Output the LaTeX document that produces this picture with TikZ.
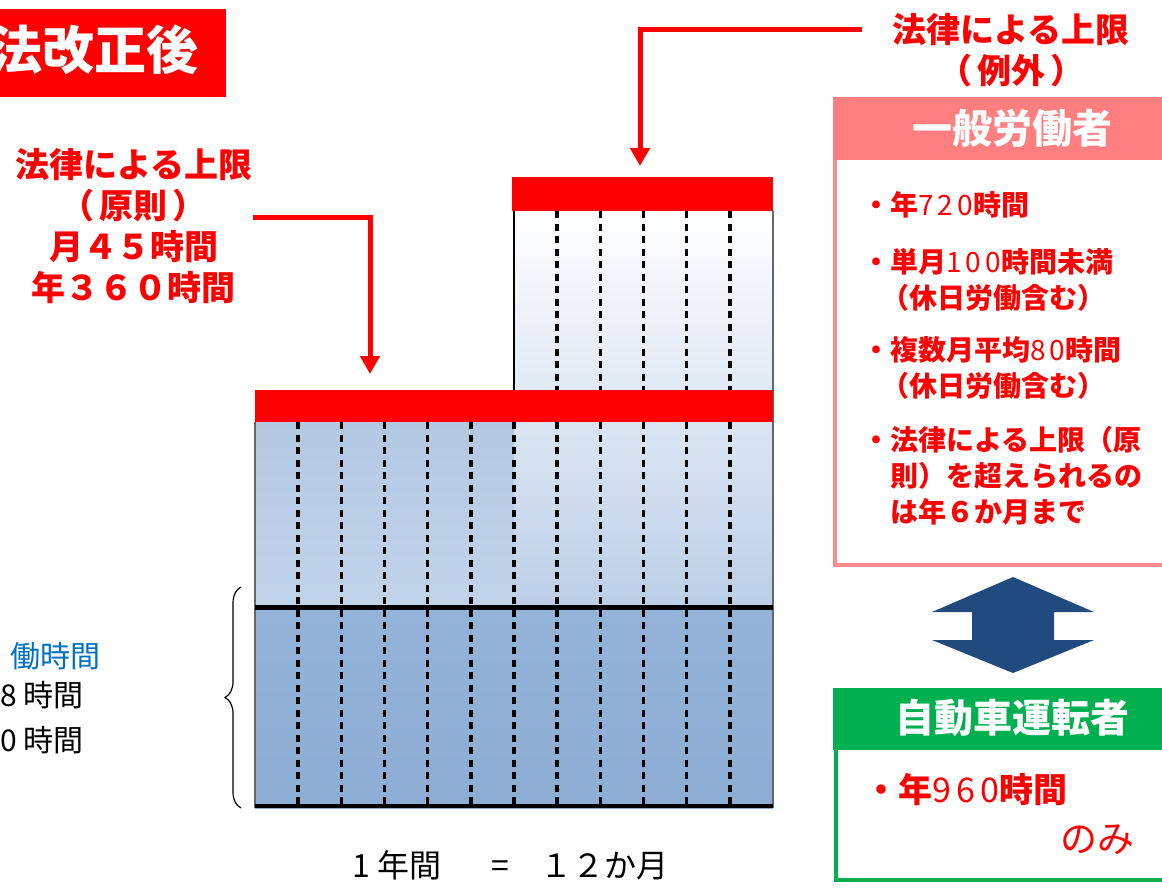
\documentclass[tikz,border=0pt]{standalone}
\usepackage{fontspec}
\setmainfont{Noto Sans CJK JP}
\usetikzlibrary{arrows.meta,decorations.pathreplacing}
\definecolor{barred}{HTML}{FF0000}
\definecolor{pinkhead}{HTML}{FF7F80}
\definecolor{pinkline}{HTML}{FF8C8C}
\definecolor{greenbox}{HTML}{00B050}
\definecolor{navyarrow}{HTML}{214A7E}
\definecolor{legalblue}{HTML}{0070C0}
\newcommand{\thinnum}[1]{{\mdseries\addfontfeatures{LetterSpace=15}#1}}
\begin{document}
\begin{tikzpicture}[x=1pt,y=-1pt,
  redtext/.style={text=barred,font=\bfseries\fontsize{34}{41}\selectfont,align=center,inner sep=0pt},
  itemtext/.style={text=barred,font=\bfseries\fontsize{28}{36}\selectfont,anchor=west,align=left,inner sep=0pt},
  headtext/.style={text=white,font=\bfseries\fontsize{40}{48}\selectfont,inner sep=0pt},
  blacktext/.style={font=\fontsize{30}{36}\selectfont,inner sep=0pt},
  limitarrow/.style={draw=barred,line width=5pt,-{Triangle[width=19pt,length=18pt]}},
  monthline/.style={line width=3.5pt,dash pattern=on 7pt off 5.5pt}]
\useasboundingbox (0,0) rectangle (1162,888);
% title
\fill[barred] (-5,9) rectangle (226,97);
\node[headtext,font=\bfseries\fontsize{52}{56}\selectfont,anchor=east] (title) at (199,50) {法改正後};
% chart blocks
\shade[top color=white,bottom color={rgb,255:red,188;green,207;blue,231}] (514,211) rectangle (773,607);
\shade[top color={rgb,255:red,180;green,200;blue,226},bottom color={rgb,255:red,194;green,212;blue,234}] (255,422) rectangle (514,607);
\shade[top color={rgb,255:red,148;green,179;blue,216},bottom color={rgb,255:red,142;green,173;blue,212}] (255,607) rectangle (773,808);
\foreach \i in {1,...,11}
  \draw[monthline] (255+\i*43.17,422) -- (255+\i*43.17,806);
\foreach \i in {7,...,11}
  \draw[monthline] (255+\i*43.17,211) -- (255+\i*43.17,390);
\draw[line width=2.5pt] (514,211) -- (514,390);
\draw[black!60,line width=1.2pt] (255,422) -- (255,808) (773,211) -- (773,808);
\draw[line width=5pt] (255,607) -- (773,607);
\draw[line width=4pt] (255,806) -- (773,806);
\fill[barred] (512,177) rectangle (773,211);
\fill[barred] (255,390) rectangle (773,422);
% brace and left text
\draw[line width=1.2pt,decorate,decoration={brace,amplitude=16pt}] (241,808) -- (241,587);
\node[blacktext,text=legalblue,anchor=east] (lawlabel) at (101,656) {働時間};
\node[blacktext,anchor=east] (daylabel) at (84,695) {8 時間};
\node[blacktext,anchor=east] (weeklabel) at (84,740) {0 時間};
\node[blacktext,font=\fontsize{32}{36}\selectfont,anchor=west] (yearlabel) at (352,865) {1 年間\hspace{50pt}=\hspace{32pt}１２か月};
% legal limits
\node[redtext] (rulelabel) at (134,226) {法律による上限\\（\hspace{5pt}原則\hspace{5pt}）\\月４５時間\\年３６０時間};
\node[redtext] (exlabel) at (1011,50) {法律による上限\\（\hspace{5pt}例外\hspace{5pt}）};
\coordinate (ruletail) at (253,217);
\coordinate (rulehead) at (370,374);
\draw[limitarrow] (ruletail) -| (rulehead);
\coordinate (extail) at (862,30);
\coordinate (exhead) at (640,166);
\draw[limitarrow] (extail) -| (exhead);
% general workers
\fill[pinkhead] (833,97) rectangle (1170,160);
\node[headtext] (genhead) at (1012,128) {一般労働者};
\draw[pinkline,line width=4pt] (835,160) -- (835,565) -- (1170,565);
\node[itemtext] (gen1) at (862,205) {・年\thinnum{720}時間};
\node[itemtext] (gen2) at (862,280) {・単月\thinnum{100}時間未満\\\hspace*{0.7em}（休日労働含む）};
\node[itemtext] (gen3) at (862,368) {・複数月平均\thinnum{80}時間\\\hspace*{0.7em}（休日労働含む）};
\node[itemtext] (gen4) at (862,476) {・法律による上限（原\\\hspace*{1em}則）を超えられるの\\\hspace*{1em}は年６か月まで};
% double arrow
\fill[navyarrow] (1013,577) -- (1094,612) -- (1054,612) -- (1054,640) -- (1094,640)
  -- (1013,673) -- (932,640) -- (972,640) -- (972,612) -- (932,612) -- cycle;
% drivers
\fill[greenbox] (833,688) rectangle (1170,750);
\node[headtext,font=\bfseries\fontsize{39}{48}\selectfont] (drvhead) at (1012,718) {自動車運転者};
\draw[greenbox,line width=4pt] (836,750) -- (836,880) -- (1170,880);
\node[itemtext,font=\bfseries\fontsize{34}{40}\selectfont] (drv1) at (864,790) {・年\thinnum{960}時間};
\node[itemtext,font=\fontsize{37}{40}\selectfont] (drv2) at (1060,840) {のみ};
\end{tikzpicture}
\end{document}
